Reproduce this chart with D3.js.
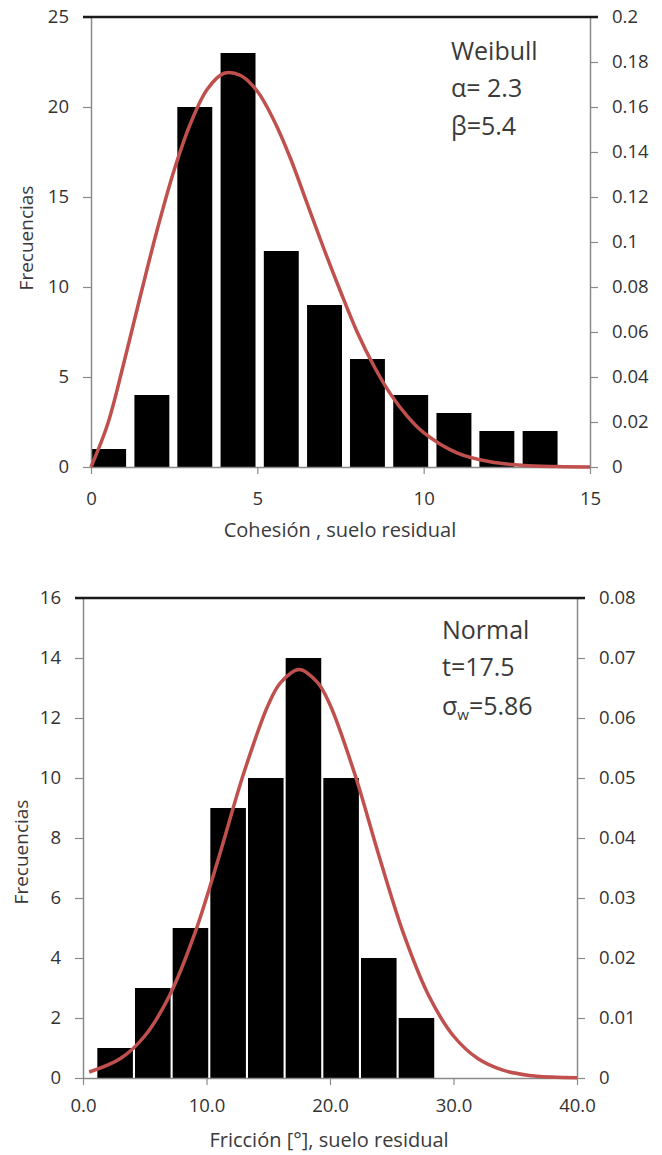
<!DOCTYPE html>
<html>
<head>
<meta charset="utf-8">
<script src="https://cdn.jsdelivr.net/npm/d3@7"></script>
<style>
  body { margin: 0; background: #fff; }
  svg { display: block; font-family: "Open Sans", sans-serif; }
  .tick text { fill: #333; }
</style>
</head>
<body>
<svg id="chart" width="662" height="1155"></svg>
<script>
// --- top histogram: cohesion, Weibull fit ---
const cohCenters = [0.53, 1.83, 3.12, 4.42, 5.72, 7.02, 8.31, 9.61, 10.91, 12.2, 13.5];
const cohCounts = [1, 4, 20, 23, 12, 9, 6, 4, 3, 2, 2];
const cohCurveX = [0, 0.5, 1, 1.5, 2, 2.5, 3, 3.5, 4, 4.5, 5, 5.5, 6, 6.5, 7, 7.5, 8, 8.5, 9, 9.5, 10, 11, 12, 13, 14, 15];
const cohCurveY = [0, 0.019, 0.047, 0.077, 0.106, 0.132, 0.153, 0.168, 0.175, 0.174, 0.167, 0.154, 0.137, 0.117, 0.097, 0.078, 0.060, 0.045, 0.0325, 0.0227, 0.0153, 0.0063, 0.0023, 0.0007, 0.0002, 0];
const cohLeftTicks = [0, 5, 10, 15, 20, 25];
const cohRightTicks = [0, 0.02, 0.04, 0.06, 0.08, 0.1, 0.12, 0.14, 0.16, 0.18, 0.2];
const cohXTicks = [0, 5, 10, 15];

// --- bottom histogram: friction, Normal fit ---
const friCenters = [2.6, 5.65, 8.7, 11.75, 14.8, 17.85, 20.9, 23.95, 27.0];
const friCounts = [1, 3, 5, 9, 10, 14, 10, 4, 2];
const friCurveX = [0.5, 3, 5, 7, 9, 11, 13, 15, 16, 17.5, 19, 20, 22, 24, 26, 28, 30, 32, 34, 36, 38, 40];
const friCurveY = [0.0010, 0.0032, 0.0070, 0.0137, 0.0238, 0.0368, 0.0507, 0.0622, 0.0659, 0.0681, 0.0659, 0.0622, 0.0507, 0.0368, 0.0238, 0.0137, 0.0070, 0.0032, 0.0013, 0.00047, 0.00015, 0.00004];
const friLeftTicks = [0, 2, 4, 6, 8, 10, 12, 14, 16];
const friRightTicks = [0, 0.01, 0.02, 0.03, 0.04, 0.05, 0.06, 0.07, 0.08];
const friXTicks = [0, 10, 20, 30, 40];

const svg = d3.select("#chart");

function histo(o) {
  const x = d3.scaleLinear().domain(o.xDomain).range([o.left, o.right]);
  const yL = d3.scaleLinear().domain(o.yLDomain).range([o.bottom, o.top]);
  const yR = d3.scaleLinear().domain(o.yRDomain).range([o.bottom, o.top]);
  const g = svg.append("g");

  // bars
  const bw = x(o.barWidth) - x(0);
  g.selectAll("rect").data(o.centers).join("rect")
    .attr("x", (d) => x(d) - bw / 2)
    .attr("width", bw)
    .attr("y", (d, i) => yL(o.counts[i]))
    .attr("height", (d, i) => yL(0) - yL(o.counts[i]))
    .attr("fill", "#000");

  // axes
  const styleAxis = (sel) => {
    sel.attr("font-family", null).attr("font-size", 18.5);
    sel.select(".domain").attr("stroke", "#8a8a8a").attr("stroke-width", 1.5);
    sel.selectAll(".tick line").attr("stroke", "#8a8a8a").attr("stroke-width", 1.2);
  };

  g.append("g").attr("transform", `translate(${o.left},0)`)
    .call(d3.axisLeft(yL).tickValues(o.leftTicks).tickSize(8).tickPadding(14).tickSizeOuter(0))
    .call(styleAxis);
  g.append("g").attr("transform", `translate(${o.right},0)`)
    .call(d3.axisRight(yR).tickValues(o.rightTicks).tickFormat(o.rightFmt).tickSize(8).tickPadding(14).tickSizeOuter(0))
    .call(styleAxis);
  g.append("g").attr("transform", `translate(0,${o.bottom})`)
    .call(d3.axisBottom(x).tickValues(o.xTicks).tickFormat(o.xFmt).tickSize(7).tickPadding(o.xPad).tickSizeOuter(0))
    .call(styleAxis);

  // top border
  g.append("line")
    .attr("x1", o.left - 8).attr("x2", o.right + 8)
    .attr("y1", o.top).attr("y2", o.top)
    .attr("stroke", "#1a1a1a").attr("stroke-width", 2.5);

  // fitted curve
  const line = d3.line()
    .x((d) => x(d))
    .y((d, i) => yR(o.curveY[i]))
    .curve(d3.curveCatmullRom.alpha(0.5));
  g.append("path")
    .datum(o.curveX)
    .attr("d", line)
    .attr("fill", "none")
    .attr("stroke", "#c0504d")
    .attr("stroke-width", 3.5)
    .attr("stroke-linejoin", "round");

  // titles
  g.append("text")
    .attr("x", o.xTitlePos[0]).attr("y", o.xTitlePos[1])
    .attr("text-anchor", "middle")
    .attr("font-size", 20).attr("fill", "#3a3a3a")
    .text(o.xTitle);
  g.append("text")
    .attr("transform", `translate(${o.yTitlePos[0]},${o.yTitlePos[1]}) rotate(-90)`)
    .attr("text-anchor", "middle")
    .attr("font-size", 19).attr("fill", "#3a3a3a")
    .text("Frecuencias");

  return g;
}

const topG = histo({
  left: 91, right: 590, top: 17, bottom: 467,
  xDomain: [0, 15], yLDomain: [0, 25], yRDomain: [0, 0.2],
  centers: cohCenters, counts: cohCounts, barWidth: 1.05,
  curveX: cohCurveX, curveY: cohCurveY,
  leftTicks: cohLeftTicks, rightTicks: cohRightTicks, xTicks: cohXTicks,
  rightFmt: (d) => String(+d.toFixed(2)), xFmt: d3.format("d"), xPad: 18,
  xTitle: "Cohesión , suelo residual", xTitlePos: [340, 537],
  yTitlePos: [33, 238]
});

const legTop = topG.append("text").attr("font-size", 25).attr("fill", "#3a3a3a");
legTop.append("tspan").attr("x", 451).attr("y", 60).text("Weibull");
legTop.append("tspan").attr("x", 451).attr("y", 97).text("α= 2.3");
legTop.append("tspan").attr("x", 451).attr("y", 135).text("β=5.4");

const botG = histo({
  left: 83, right: 577, top: 598, bottom: 1078,
  xDomain: [0, 40], yLDomain: [0, 16], yRDomain: [0, 0.08],
  centers: friCenters, counts: friCounts, barWidth: 2.88,
  curveX: friCurveX, curveY: friCurveY,
  leftTicks: friLeftTicks, rightTicks: friRightTicks, xTicks: friXTicks,
  rightFmt: (d) => String(+d.toFixed(2)), xFmt: d3.format(".1f"), xPad: 14,
  xTitle: "Fricción [°], suelo residual", xTitlePos: [329, 1147],
  yTitlePos: [28, 852]
});

const legBot = botG.append("text").attr("font-size", 25).attr("fill", "#3a3a3a");
legBot.append("tspan").attr("x", 442).attr("y", 639).text("Normal");
legBot.append("tspan").attr("x", 442).attr("y", 676).text("t=17.5");
const sig = botG.append("text").attr("font-size", 25).attr("fill", "#3a3a3a")
  .attr("x", 442).attr("y", 715);
sig.append("tspan").text("σ");
sig.append("tspan").attr("font-size", 15).attr("dy", 5).text("w");
sig.append("tspan").attr("dy", -5).text("=5.86");
</script>
</body>
</html>
